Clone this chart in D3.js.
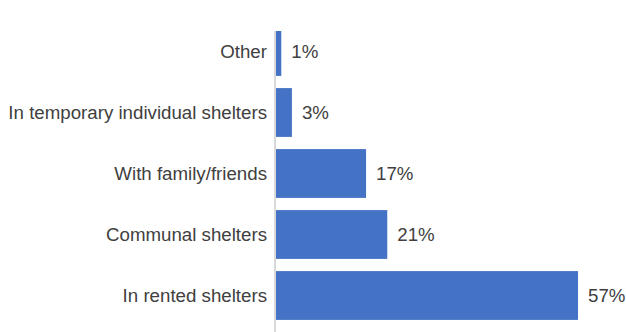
<!DOCTYPE html>
<html>
<head>
<meta charset="utf-8">
<script src="https://cdn.jsdelivr.net/npm/d3@7/dist/d3.min.js"></script>
<style>
  html, body { margin: 0; padding: 0; background: #ffffff; }
  svg { display: block; }
</style>
</head>
<body>
<div id="chart"></div>
<script>
const categories = ["Other", "In temporary individual shelters", "With family/friends", "Communal shelters", "In rented shelters"];
const values = [1, 3, 17, 21, 57];

const width = 626, height = 332;
const axisX = 275;

const svg = d3.select("#chart").append("svg")
  .attr("width", width).attr("height", height)
  .style("font-family", "'Liberation Sans', Arial, sans-serif");

const x = d3.scaleLinear().domain([0, 57]).range([axisX + 1, 578]);
const y = d3.scaleBand().domain(categories).range([21, 326]).paddingInner(0.2).paddingOuter(0.1);

svg.append("defs").append("clipPath").attr("id", "plotclip")
  .append("rect").attr("x", axisX).attr("y", 31).attr("width", width - axisX).attr("height", height - 31);

svg.append("g").attr("clip-path", "url(#plotclip)")
  .selectAll("rect").data(categories).join("rect")
  .attr("x", x(0))
  .attr("y", d => y(d))
  .attr("width", (d, i) => x(values[i]) - x(0))
  .attr("height", y.bandwidth())
  .attr("fill", "#4472C4");

svg.append("line")
  .attr("x1", axisX).attr("x2", axisX)
  .attr("y1", 31).attr("y2", height)
  .attr("stroke", "#d9d9d9").attr("stroke-width", 2);

svg.append("g").selectAll("text").data(categories).join("text")
  .attr("x", 267)
  .attr("y", d => y(d) + y.bandwidth() / 2)
  .attr("dy", "0.35em")
  .attr("text-anchor", "end")
  .attr("font-size", 18.7)
  .attr("fill", "#404040")
  .text(d => d);

svg.append("g").selectAll("text").data(categories).join("text")
  .attr("x", (d, i) => x(values[i]) + 10)
  .attr("y", d => y(d) + y.bandwidth() / 2)
  .attr("dy", "0.35em")
  .attr("font-size", 18.7)
  .attr("fill", "#404040")
  .text((d, i) => values[i] + "%");
</script>
</body>
</html>
